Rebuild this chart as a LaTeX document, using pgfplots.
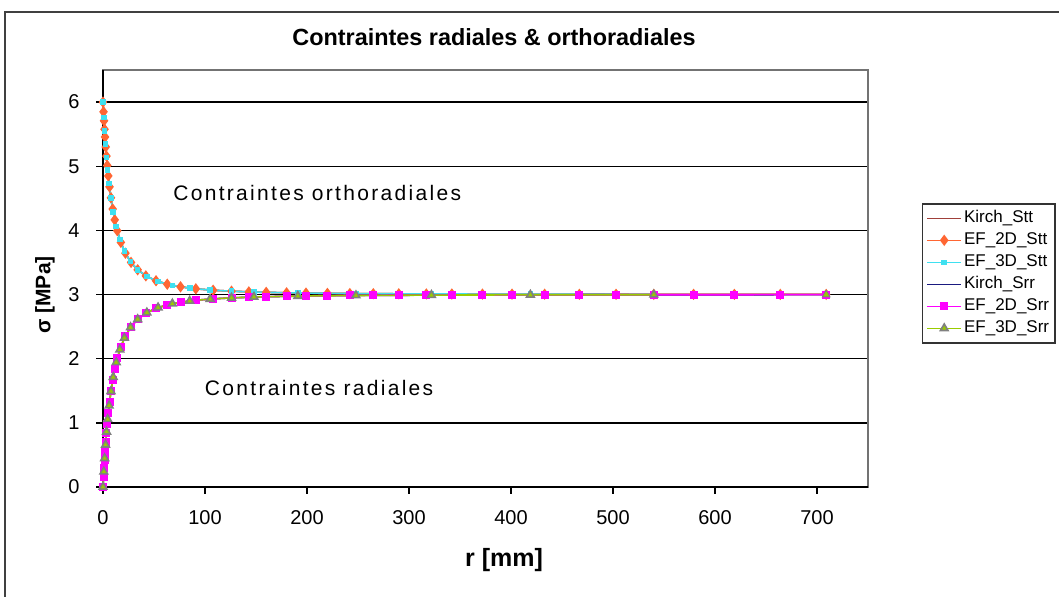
\documentclass[border=0pt]{standalone}
\usepackage{fontspec}
\setmainfont{Liberation Sans}
\newfontfamily\spaced[LetterSpace=11]{Liberation Sans}
\usepackage{pgfplots}
\pgfplotsset{compat=1.18}
\usepackage{pgfplotstable}

\definecolor{kstt}{HTML}{A0403A}
\definecolor{ftt}{HTML}{FF6633}
\definecolor{dtt}{HTML}{3FE0F0}
\definecolor{ksrr}{HTML}{1A1A80}
\definecolor{frr}{HTML}{FF00FF}
\definecolor{drr}{HTML}{99CC00}

% EF 2D mesh (r, sigma_tt, sigma_rr)
\pgfplotstableread{
r stt srr
0 6.000 0.000
0.5 5.848 0.152
1 5.708 0.293
1.5 5.577 0.423
2 5.456 0.544
2.7 5.300 0.700
3.4 5.158 0.842
4.2 5.012 0.988
5.2 4.849 1.151
6.4 4.679 1.321
7.8 4.508 1.492
9.5 4.333 1.667
11.5 4.164 1.836
14 3.995 2.005
17.5 3.813 2.187
22 3.644 2.356
27.5 3.501 2.499
34 3.386 2.614
42 3.291 2.709
52 3.215 2.785
63 3.161 2.839
76 3.120 2.880
91 3.089 2.911
108 3.067 2.933
126 3.052 2.948
143 3.041 2.959
160 3.034 2.966
180 3.027 2.973
199 3.022 2.978
220 3.018 2.982
242 3.015 2.985
265 3.013 2.987
290 3.011 2.989
317 3.009 2.991
342 3.008 2.992
372 3.007 2.993
401 3.006 2.994
433 3.005 2.995
467 3.004 2.996
503 3.004 2.996
540 3.003 2.997
579 3.003 2.997
619 3.003 2.997
664 3.002 2.998
709 3.002 2.998
}\twoD

% EF 3D mesh
\pgfplotstableread{
r stt srr
0 6.000 0.000
0.8 5.762 0.238
1.6 5.552 0.448
2.5 5.343 0.657
3.5 5.139 0.861
4.6 4.944 1.056
6 4.733 1.267
7.8 4.508 1.492
10 4.288 1.712
13 4.058 1.942
16.5 3.859 2.141
21 3.677 2.323
27 3.512 2.488
34 3.386 2.614
43 3.282 2.718
54 3.203 2.797
68 3.143 2.857
85 3.100 2.900
105 3.070 2.930
126 3.052 2.948
148 3.038 2.962
191 3.024 2.976
248 3.015 2.985
322 3.009 2.991
419 3.005 2.995
540 3.003 2.997
}\threeD

\pgfplotstableread{
r srr
709 2.998
}\threeDend

% Kirsch analytical
\pgfplotstableread{
r stt srr
0 6.000 0.000
0.5 5.848 0.152
1 5.708 0.293
1.5 5.577 0.423
2 5.456 0.544
2.7 5.300 0.700
3.4 5.158 0.842
4.2 5.012 0.988
5.2 4.849 1.151
6.4 4.679 1.321
7.8 4.508 1.492
9.5 4.333 1.667
11.5 4.164 1.836
14 3.995 2.005
17.5 3.813 2.187
22 3.644 2.356
27.5 3.501 2.499
34 3.386 2.614
42 3.291 2.709
52 3.215 2.785
63 3.161 2.839
76 3.120 2.880
91 3.089 2.911
108 3.067 2.933
126 3.052 2.948
160 3.034 2.966
199 3.022 2.978
242 3.015 2.985
290 3.011 2.989
342 3.008 2.992
401 3.006 2.994
467 3.004 2.996
540 3.003 2.997
619 3.003 2.997
709 3.002 2.998
}\kirsch

\pgfplotstableread{
r srr
709 2.998
741 2.998
}\kirschend

\begin{document}
\begin{tikzpicture}
\useasboundingbox (0,0) rectangle (529.5pt,298.5pt);
\draw[line width=1pt, black!75] (2.5pt,-5pt) -- (2.5pt,292.5pt) -- (540pt,292.5pt);
\node[font=\fontsize{11.7}{14}\selectfont\bfseries] at (247pt,280pt) {Contraintes radiales \& orthoradiales};
\node[font=\fontsize{10.5}{12}\selectfont\bfseries, rotate=90] at (22.5pt,151pt) {σ [MPa]};
\node[font=\fontsize{12.5}{14}\selectfont\bfseries] at (252pt,18.5pt) {r [mm]};
\begin{axis}[
  at={(51.5pt,55pt)}, anchor=south west,
  scale only axis, width=382.5pt, height=208.5pt,
  xmin=0, xmax=750, ymin=0, ymax=6.5,
  xtick={0,100,...,700}, ytick={0,1,...,6},
  tick pos=left, tick align=outside, major tick length=3.5pt,
  ymajorgrids, grid style={black, line width=0.7pt},
  axis line style={draw=black!55, line width=0.8pt},
  tick style={black, line width=0.7pt},
  ticklabel style={font=\fontsize{10}{12}\selectfont},
  /pgf/number format/assume math mode=true,
  xticklabel style={anchor=north, inner sep=0pt, yshift=-8pt},
  yticklabel style={anchor=east, inner sep=0pt, xshift=-8pt},
  clip=false,
  legend style={at={(axis description cs:1.070,0.681)}, anchor=north west,
    draw=black!80, line width=0.8pt, font=\fontsize{8.5}{10}\selectfont,
    inner xsep=2pt, inner ysep=2pt, row sep=0.5pt,
    nodes={text height=6.5pt, text depth=2pt, inner sep=1pt}},
  legend cell align=left,
]
\draw[black, line width=0.8pt] (axis cs:0,0) -- (axis cs:0,6.5);
\draw[black, line width=0.8pt] (axis cs:0,0) -- (axis cs:750,0);
\addplot[kstt, line width=0.8pt] table[x=r, y=stt] {\kirsch};
\addlegendentry{Kirch\_Stt}
\addplot[ftt, line width=0.8pt, mark=diamond*, mark size=2.2pt, mark options={fill=ftt, draw=ftt}] table[x=r, y=stt] {\twoD};
\addlegendentry{EF\_2D\_Stt}
\addplot[dtt, line width=0.8pt, mark=square*, mark size=1pt, mark options={fill=dtt, draw=dtt}] table[x=r, y=stt] {\threeD};
\addlegendentry{EF\_3D\_Stt}
\addplot[ksrr, line width=0.8pt] table[x=r, y=srr] {\kirsch};
\addlegendentry{Kirch\_Srr}
\addplot[forget plot, black, line width=0.8pt] table[x=r, y=srr] {\kirschend};
\addplot[frr, line width=0.8pt, mark=square*, mark size=1.6pt, mark options={fill=frr, draw=frr}] table[x=r, y=srr] {\twoD};
\addlegendentry{EF\_2D\_Srr}
\addplot[drr, line width=0.8pt, mark=triangle*, mark size=2.2pt, mark options={fill=drr, draw=gray}] table[x=r, y=srr] {\threeD};
\addlegendentry{EF\_3D\_Srr}
\addplot[forget plot, only marks, mark=triangle*, mark size=2.2pt, mark options={fill=drr, draw=gray}] table[x=r, y=srr] {\threeDend};
\node[anchor=west, font=\spaced\fontsize{10.5}{12}\selectfont] at (axis cs:62,4.58) {Contraintes orthoradiales};
\node[anchor=west, font=\spaced\fontsize{10.5}{12}\selectfont] at (axis cs:93,1.54) {Contraintes radiales};
\end{axis}
\end{tikzpicture}
\end{document}
